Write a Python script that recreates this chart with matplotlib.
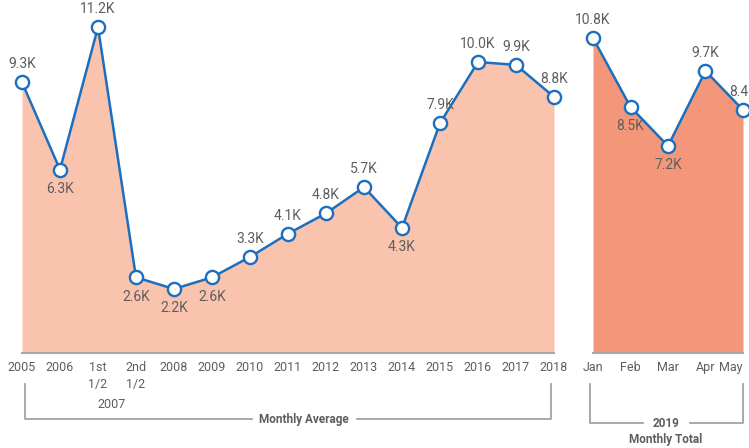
import matplotlib.pyplot as plt
from matplotlib.lines import Line2D

plt.rcParams['font.family'] = ['Roboto', 'DejaVu Sans']

# Monthly average by year (thousands)
years = ['2005', '2006', '1st\n1/2', '2nd\n1/2', '2008', '2009', '2010', '2011',
         '2012', '2013', '2014', '2015', '2016', '2017', '2018']
avg_vals = [9.3, 6.3, 11.2, 2.6, 2.2, 2.6, 3.3, 4.1, 4.8, 5.7, 4.3, 7.9, 10.0, 9.9, 8.8]
avg_pos = ['above', 'below', 'above', 'below', 'below', 'below', 'above', 'above',
           'above', 'above', 'below', 'above', 'above', 'above', 'above']

# 2019 monthly totals (thousands)
months = ['Jan', 'Feb', 'Mar', 'Apr', 'May']
month_vals = [10.8, 8.5, 7.2, 9.7, 8.4]
month_pos = ['above', 'below', 'below', 'above', 'above']

W, H = 749, 448
fig = plt.figure(figsize=(W / 100, H / 100), dpi=100)

def px_axes(x0, x1, y0, y1):
    return fig.add_axes([x0 / W, 1 - y1 / H, (x1 - x0) / W, (y1 - y0) / H])

line_col = '#1c6fbf'
text_col = '#5e5e5e'
gray = '#9a9a9a'

def draw(ax, labels, vals, pos, fill_col, ylo, yhi):
    x = list(range(len(vals)))
    ax.fill_between(x, ylo, vals, color=fill_col, linewidth=0)
    ax.plot(x, vals, color=line_col, linewidth=1.8, marker='o', markersize=9.5,
            markerfacecolor='white', markeredgecolor=line_col, markeredgewidth=1.7,
            clip_on=False, zorder=3)
    for xi, v, p in zip(x, vals, pos):
        off = 13 if p == 'above' else -14
        ax.annotate(f'{v:.1f}K', (xi, v), xytext=(0, off), textcoords='offset points',
                    ha='center', va='center', fontsize=10, color=text_col,
                    annotation_clip=False)
    ax.set_xlim(0, len(vals) - 1)
    ax.set_ylim(ylo, yhi)
    ax.set_yticks([])
    ax.set_xticks(x)
    ax.set_xticklabels(labels, fontsize=9, color=text_col, va='top', linespacing=1.35)
    ax.tick_params(axis='x', length=0, pad=6)
    for s in ['top', 'left', 'right']:
        ax.spines[s].set_visible(False)
    ax.spines['bottom'].set_color('#a8a8a8')
    ax.spines['bottom'].set_linewidth(1.5)
    ax.set_facecolor('none')

ax1 = px_axes(22, 554, 0, 353)
draw(ax1, years, avg_vals, avg_pos, '#f9c3ad', 0, 353 / 29.1)

ax2 = px_axes(593, 743, 0, 353)
draw(ax2, months, month_vals, month_pos, '#f4967a', 0.3, 0.3 + 353 / 30)
ax2.get_xticklabels()[-1].set_ha('right')
ax2.get_xticklabels()[-1].set_x(4.15)

fig.text(112 / W, 1 - 404 / H, '2007', ha='center', va='center', fontsize=9, color=text_col)

def seg(xs, ys):
    fig.add_artist(Line2D([v / W for v in xs], [1 - v / H for v in ys],
                          color=gray, linewidth=1.2, transform=fig.transFigure))

# brackets
seg([25, 25, 252], [384, 419, 419])
seg([357, 551, 551], [419, 419, 384])
fig.text(304 / W, 1 - 419 / H, 'Monthly Average', ha='center', va='center',
         fontsize=8.5, fontweight='bold', color=text_col)

seg([590, 590, 643], [384, 423, 423])
seg([690, 743, 743], [423, 423, 384])
fig.text(666 / W, 1 - 423 / H, '2019', ha='center', va='center',
         fontsize=8.5, fontweight='bold', color=text_col)
fig.text(666 / W, 1 - 439 / H, 'Monthly Total', ha='center', va='center',
         fontsize=8.5, fontweight='bold', color=text_col)

fig.savefig('out.png', dpi=100)
